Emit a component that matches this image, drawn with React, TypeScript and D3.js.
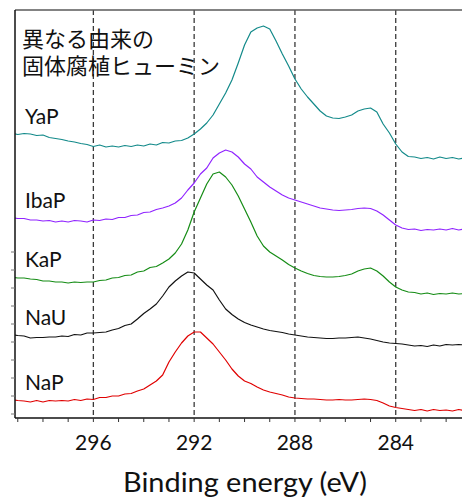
import React, { useRef, useEffect } from 'react';
import * as d3 from 'd3';

// binding energy grid (eV), 299.25 -> 281.25 in 0.25 steps
const energies = d3.range(299.25, 281.0, -0.25);

// intensities (a.u., already offset for stacking)
const yaP = [285, 283.5, 284.5, 284, 282.5, 283, 280.5, 279.5, 278.5, 277, 276, 274.5, 273.5, 271.5, 273, 271, 272, 271, 272.5, 271.5,
  273, 272, 274, 273, 275.5, 275, 277, 277.5, 280, 284, 289, 295, 303, 314, 325, 338, 355, 373, 386, 390,
  392, 389, 377, 364, 352, 339, 329, 321, 314, 307, 302, 300, 299.5, 301, 303, 307, 309, 310, 306, 294,
  285, 274, 266, 261.5, 261, 259.5, 260.5, 259, 261, 259.5, 260.5, 259, 260];
const ibaP = [200.5, 199.5, 199.5, 198, 198, 197, 197.5, 196, 197, 196, 197.5, 197, 196, 198, 197.5, 199, 198.5, 200.5, 200.5, 202.5,
  203, 205.5, 206, 208.5, 210, 212, 215, 220, 228, 235, 244, 250, 260, 265, 268, 266, 261, 254, 249, 241,
  236, 231, 227, 223, 220, 218, 216, 214, 212, 210, 209, 208, 207.5, 208, 208.5, 209.5, 210, 209.5, 207, 203,
  198, 193, 190, 188.5, 189, 187.5, 188.5, 188, 189, 188, 189.5, 188, 189];
const kaP = [141, 140, 140, 139, 138.5, 137, 137, 136, 136, 135, 136, 135.5, 136, 136, 137.5, 138, 140, 140.5, 142.5, 143,
  146, 147, 150.5, 151.5, 155, 159, 165, 174, 188, 206, 220, 234, 244, 246, 241, 233, 222, 209, 196, 182,
  172, 166, 162, 158, 153.5, 150, 147, 144.5, 142.5, 141.5, 141, 141, 141.5, 142.5, 144, 147, 149, 150, 147, 142,
  136, 131, 128, 126, 125.5, 124, 125, 123.5, 124.5, 124, 125, 124, 124.5];
const naU = [83.5, 82.5, 82, 80, 80.5, 80.5, 81, 81, 82, 81.5, 83.5, 83, 85, 85, 85.5, 86, 88, 89.5, 92.5, 94,
  99, 104.5, 109, 114, 122, 131, 137, 142, 146, 145, 139, 133, 128, 118, 109, 103.5, 99, 95.5, 93, 91,
  89, 87.5, 86.5, 85.5, 84, 83, 82, 81, 80.5, 80, 79.5, 79.5, 80, 80, 80.5, 81, 80, 79, 77.5, 76,
  75, 74.5, 74, 73, 72, 72.5, 71.5, 73, 72, 73.5, 73, 73.5, 73];
const naP = [18.5, 17.5, 17, 16, 17.5, 16, 17.5, 17, 17.5, 17, 18.5, 17.5, 19, 18.5, 20.5, 20.5, 22, 22, 24, 24.5,
  27, 29, 33, 37, 43, 56, 66, 75, 82, 86, 86, 80, 74, 66, 58, 49, 42, 37, 34.5, 31,
  28, 26, 24.5, 23, 21, 20, 19.5, 19, 19, 18.5, 18, 18, 18.5, 18, 18, 18.5, 19, 18.5, 17.5, 15,
  12, 10.5, 9.5, 8.5, 7.5, 8.5, 7, 8.5, 7.5, 8, 7, 8.5, 7.5];

const seriesNames = ['YaP', 'IbaP', 'KaP', 'NaU', 'NaP'];
const seriesValues = [yaP, ibaP, kaP, naU, naP];
const seriesColors = ['#138a8a', '#9024ff', '#158c15', '#111111', '#e00000'];

const titleLines = ['異なる由来の', '固体腐植ヒューミン'];
const xTickLabels = [296, 292, 288, 284];
const minorXTicks = d3.range(299, 281.5, -1);
const minorYTicks = [4, 22, 40, 58, 76, 94, 112, 130, 148, 166];
const xLabel = 'Binding energy (eV)';

export default function App() {
  const svgRef = useRef<SVGSVGElement>(null);

  useEffect(() => {
    document.body.style.margin = '0';
    const width = 462;
    const height = 497;
    const margin = { top: 10, right: 0, bottom: 79, left: 15 };
    const plotBottom = height - margin.bottom;

    const svg = d3.select(svgRef.current);
    svg.selectAll('*').remove();

    const x = d3.scaleLinear().domain([299.11, 281.37]).range([margin.left, width - margin.right]);
    const y = d3.scaleLinear().domain([0, 408]).range([plotBottom, margin.top]);

    svg.append('defs').append('clipPath').attr('id', 'plot-clip')
      .append('rect')
      .attr('x', margin.left).attr('y', margin.top)
      .attr('width', width - margin.left - margin.right)
      .attr('height', plotBottom - margin.top);

    // dashed guide lines
    svg.append('g').selectAll('line')
      .data(xTickLabels)
      .join('line')
      .attr('x1', d => x(d)).attr('x2', d => x(d))
      .attr('y1', margin.top).attr('y2', plotBottom)
      .attr('stroke', '#3a3a3a')
      .attr('stroke-width', 1.3)
      .attr('stroke-dasharray', '5,3');

    // spectra
    const line = d3.line<number>()
      .x((_, i) => x(energies[i]))
      .y(d => y(d));

    const spectra = svg.append('g').attr('clip-path', 'url(#plot-clip)');
    seriesValues.forEach((vals, i) => {
      spectra.append('path')
        .datum(vals)
        .attr('d', line)
        .attr('fill', 'none')
        .attr('stroke', seriesColors[i])
        .attr('stroke-width', 1.2)
        .attr('stroke-linejoin', 'round');
    });

    // sample labels, placed above each trace's left end
    svg.append('g').selectAll('text')
      .data(seriesNames)
      .join('text')
      .attr('x', 25)
      .attr('y', (_, i) => y(seriesValues[i][1]) - 11)
      .attr('font-family', 'Lato, "Noto Sans", sans-serif')
      .attr('font-size', 21)
      .attr('fill', '#111')
      .text(d => d);

    // frame: top border, left + bottom axes
    svg.append('line')
      .attr('x1', margin.left).attr('x2', width)
      .attr('y1', margin.top).attr('y2', margin.top)
      .attr('stroke', '#5a5a5a').attr('stroke-width', 1.5);
    svg.append('line')
      .attr('x1', margin.left).attr('x2', margin.left)
      .attr('y1', margin.top).attr('y2', plotBottom)
      .attr('stroke', '#111').attr('stroke-width', 1.5);
    svg.append('line')
      .attr('x1', margin.left).attr('x2', width)
      .attr('y1', plotBottom).attr('y2', plotBottom)
      .attr('stroke', '#111').attr('stroke-width', 1.5);

    // minor ticks
    svg.append('g').selectAll('line')
      .data(minorXTicks)
      .join('line')
      .attr('x1', d => x(d)).attr('x2', d => x(d))
      .attr('y1', plotBottom).attr('y2', plotBottom + 4)
      .attr('stroke', '#333').attr('stroke-width', 1);
    svg.append('g').selectAll('line')
      .data(minorYTicks)
      .join('line')
      .attr('x1', margin.left - 4).attr('x2', margin.left)
      .attr('y1', d => y(d)).attr('y2', d => y(d))
      .attr('stroke', '#777').attr('stroke-width', 1);

    // tick labels
    svg.append('g').selectAll('text')
      .data(xTickLabels)
      .join('text')
      .attr('x', d => x(d))
      .attr('y', 450)
      .attr('text-anchor', 'middle')
      .attr('font-family', 'Lato, "Noto Sans", sans-serif')
      .attr('font-size', 21)
      .attr('fill', '#111')
      .text(d => d);

    svg.append('text')
      .attr('x', 245)
      .attr('y', 492)
      .attr('text-anchor', 'middle')
      .attr('font-family', 'Lato, "Noto Sans", sans-serif')
      .attr('font-size', 27)
      .attr('textLength', 244)
      .attr('lengthAdjust', 'spacingAndGlyphs')
      .attr('fill', '#111')
      .text(xLabel);

    // title (two lines in one text element)
    const title = svg.append('text')
      .attr('font-family', '"Noto Sans CJK JP", sans-serif')
      .attr('font-size', 22)
      .attr('fill', '#111');
    title.selectAll('tspan')
      .data(titleLines)
      .join('tspan')
      .attr('x', 22)
      .attr('y', (_, i) => 47 + i * 27)
      .text(d => d);
  }, []);

  return (
    <svg ref={svgRef} width={462} height={497} style={{ display: 'block', background: '#fff' }} />
  );
}
